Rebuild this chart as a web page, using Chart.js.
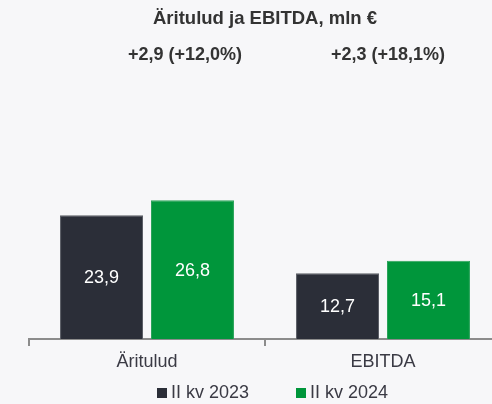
<!DOCTYPE html>
<html>
<head>
<meta charset="utf-8">
<script src="https://cdn.jsdelivr.net/npm/chart.js@4.4.1/dist/chart.umd.min.js"></script>
<style>
  html, body { margin: 0; padding: 0; background: #f7f7f9; overflow: hidden; }
  #wrap { position: relative; width: 515px; height: 404px; }
</style>
</head>
<body>
<div id="wrap"><canvas id="chart"></canvas></div>
<script>
const kategooriad = ['Äritulud', 'EBITDA'];
const seeriaNimed = ['II kv 2023', 'II kv 2024'];
const kv2023 = [23.9, 12.7];
const kv2024 = [26.8, 15.1];
const muutused = ['+2,9 (+12,0%)', '+2,3 (+18,1%)'];
const pealkiri = 'Äritulud ja EBITDA, mln €';

const varvid = ['#2b2e38', '#00963b'];
const FONT = "'Liberation Sans', Arial, sans-serif";

const fmt = v => v.toFixed(1).replace('.', ',');

// väärtused tulpade sees
const tulbaSildid = {
    id: 'tulbaSildid',
    afterDatasetsDraw(chart) {
        const ctx = chart.ctx;
        ctx.save();
        ctx.font = '18px ' + FONT;
        ctx.fillStyle = '#ffffff';
        ctx.textAlign = 'center';
        ctx.textBaseline = 'middle';
        chart.data.datasets.forEach((ds, i) => {
            chart.getDatasetMeta(i).data.forEach((bar, j) => {
                ctx.fillText(fmt(ds.data[j]), bar.x, (bar.y + bar.base) / 2 + 1);
            });
        });
        ctx.restore();
    }
};

// muutused tulpade kohal + legend
const lisaTekst = {
    id: 'lisaTekst',
    afterDraw(chart) {
        const ctx = chart.ctx;
        const x = chart.scales.x;
        const nihked = [38, 5];
        ctx.save();
        ctx.font = 'bold 18px ' + FONT;
        ctx.fillStyle = '#333333';
        ctx.textAlign = 'center';
        ctx.textBaseline = 'middle';
        muutused.forEach((t, i) => {
            ctx.fillText(t, x.getPixelForValue(i) + nihked[i], 55);
        });

        // legend
        ctx.font = '18px ' + FONT;
        ctx.textAlign = 'left';
        const lx = [157, 296];
        seeriaNimed.forEach((n, i) => {
            ctx.fillStyle = varvid[i];
            ctx.fillRect(lx[i], 388, 10, 10);
            ctx.fillStyle = '#3a3a44';
            ctx.fillText(n, lx[i] + 14, 393);
        });
        ctx.restore();
    }
};

new Chart(document.getElementById('chart'), {
    type: 'bar',
    data: {
        labels: kategooriad,
        datasets: [
            { label: seeriaNimed[0], data: kv2023, backgroundColor: varvid[0], borderColor: '#5b5e66', borderWidth: 1 },
            { label: seeriaNimed[1], data: kv2024, backgroundColor: varvid[1], borderColor: '#2aa35a', borderWidth: 1 }
        ]
    },
    options: {
        responsive: true,
        maintainAspectRatio: false,
        animation: false,
        layout: { padding: { left: 29, right: 14, top: 0, bottom: 26.5 } },
        datasets: { bar: { barPercentage: 0.912, categoryPercentage: 0.771 } },
        plugins: {
            legend: { display: false },
            tooltip: { enabled: false },
            title: {
                display: true,
                text: pealkiri,
                color: '#333333',
                font: { family: FONT, size: 18.5, weight: 'bold' },
                padding: { top: 8, bottom: 50 }
            }
        },
        scales: {
            x: {
                border: { display: true, color: '#8c8c8c', width: 2 },
                grid: { drawOnChartArea: false, drawTicks: true, tickLength: 7, color: '#8c8c8c', lineWidth: 2, offset: true },
                ticks: { color: '#3a3a44', font: { family: FONT, size: 18 }, padding: 5 }
            },
            y: { display: false, min: 0, max: 50 }
        }
    },
    plugins: [tulbaSildid, lisaTekst]
});
</script>
</body>
</html>
